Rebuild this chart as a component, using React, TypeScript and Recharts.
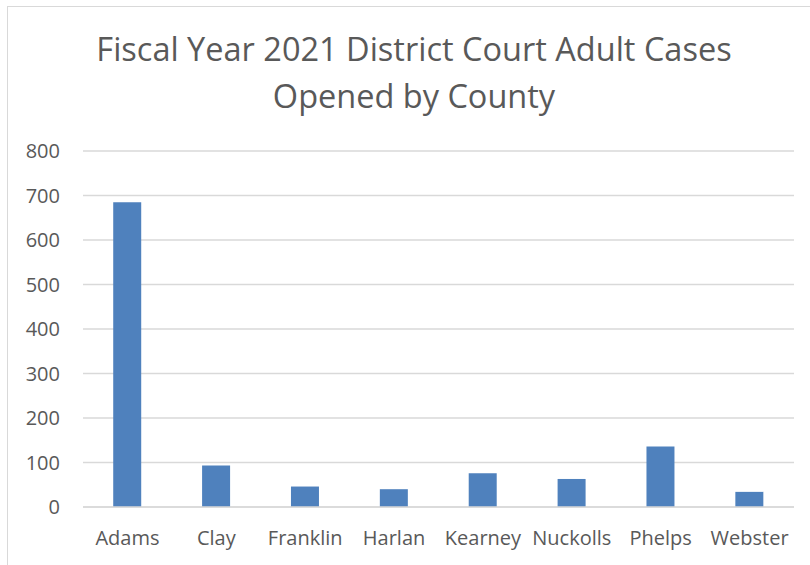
import React from 'react';
import { BarChart, Bar, XAxis, YAxis, CartesianGrid } from 'recharts';

const counties = ['Adams', 'Clay', 'Franklin', 'Harlan', 'Kearney', 'Nuckolls', 'Phelps', 'Webster'];
const casesOpened = [685, 93, 46, 40, 76, 63, 136, 34];
const yTicks = [0, 100, 200, 300, 400, 500, 600, 700, 800];

const chartData = counties.map((name, i) => ({ name, cases: casesOpened[i] }));

const textColor = '#595959';
const gridColor = '#d9d9d9';
const font = '"Open Sans", sans-serif';

export default function App() {
  return (
    <div style={{ position: 'absolute', left: 0, top: 0, width: 810, height: 565, overflow: 'hidden', background: '#fff', fontFamily: font }}>
      {/* chart frame */}
      <div style={{ position: 'absolute', left: 7, top: 6, width: 810, height: 600, border: `1px solid ${gridColor}` }} />
      <div
        style={{
          position: 'absolute', left: 0, top: 25, width: 828, textAlign: 'center',
          fontSize: 32.5, lineHeight: '47px', color: textColor,
        }}
      >
        Fiscal Year 2021 District Court Adult Cases
        <br />
        Opened by County
      </div>
      <div style={{ position: 'absolute', left: 0, top: 0 }}>
        <BarChart
          width={810}
          height={565}
          data={chartData}
          margin={{ top: 151, right: 16, bottom: 28, left: 0 }}
          barCategoryGap="34%"
        >
          <CartesianGrid horizontal vertical={false} stroke={gridColor} strokeWidth={1.3} />
          <XAxis
            dataKey="name"
            tickLine={false}
            axisLine={{ stroke: gridColor, strokeWidth: 1.3 }}
            tick={{ fill: textColor, fontSize: 20, fontFamily: font }}
            tickMargin={18}
            interval={0}
          />
          <YAxis
            width={83}
            domain={[0, 800]}
            ticks={yTicks}
            tickLine={false}
            axisLine={false}
            tick={{ fill: textColor, fontSize: 20, fontFamily: font }}
            tickMargin={17}
          />
          <Bar dataKey="cases" fill="#4f81bd" isAnimationActive={false} />
        </BarChart>
      </div>
    </div>
  );
}
